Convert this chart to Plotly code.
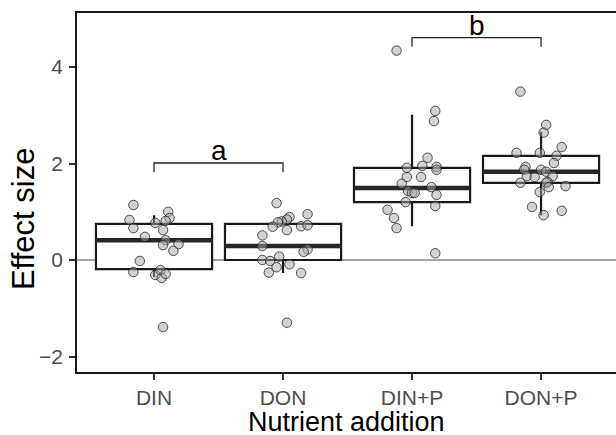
import plotly.graph_objects as go

# ---------------- data ----------------
categories = ["DIN", "DON", "DIN+P", "DON+P"]

# box statistics
q1 = [-0.19, 0.00, 1.20, 1.60]
median = [0.41, 0.29, 1.49, 1.83]
q3 = [0.75, 0.75, 1.91, 2.16]
lower_whisker = [-0.35, -0.27, 0.70, 0.93]
upper_whisker = [0.93, 0.89, 3.01, 2.66]

# jittered observations: values and horizontal jitter (category units)
din_y = [1.14, 0.83, 0.66, 0.48, 0.77, 1.00, 0.87, 0.81, 0.62, 0.41,
         0.31, 0.33, 0.19, -0.02, -0.25, -0.31, -0.21, -0.37, -0.29, -1.39]
din_dx = [-0.16, -0.19, -0.16, -0.07, 0.01, 0.11, 0.12, 0.09, 0.07, 0.09,
          0.07, 0.19, 0.15, -0.11, -0.16, 0.01, 0.05, 0.06, 0.09, 0.07]

don_y = [1.18, 0.95, 0.89, 0.84, 0.80, 0.78, 0.69, 0.62, 0.70, 0.72, 0.51,
         0.29, 0.22, 0.17, 0.07, 0.00, -0.02, -0.15, -0.26, -0.09, -0.27, -1.30]
don_dx = [-0.05, 0.19, 0.05, 0.03, -0.01, -0.04, -0.08, 0.03, 0.14, 0.19, -0.16,
          -0.16, 0.19, 0.16, -0.03, -0.16, -0.10, -0.05, -0.11, 0.05, 0.14, 0.03]

dinp_y = [4.34, 3.09, 2.88, 2.12, 1.95, 1.93, 1.87, 1.91, 1.72, 1.72, 1.58,
          1.51, 1.43, 1.39, 1.39, 1.35, 1.20, 1.12, 1.04, 0.87, 0.66, 0.14]
dinp_dx = [-0.12, 0.18, 0.17, 0.12, 0.08, 0.19, 0.19, -0.04, -0.04, 0.07, -0.08,
           0.15, -0.03, 0.00, 0.02, 0.19, -0.05, 0.18, -0.19, -0.14, -0.12, 0.18]

donp_y = [3.49, 2.80, 2.64, 2.34, 2.22, 2.22, 2.16, 2.01, 1.93, 1.87, 1.87, 1.83,
          1.74, 1.72, 1.74, 1.62, 1.60, 1.60, 1.51, 1.53, 1.41, 1.10, 1.02, 0.93]
donp_dx = [-0.16, 0.04, 0.02, 0.16, -0.19, -0.01, 0.12, 0.10, -0.12, -0.13, 0.00, 0.04,
           -0.11, -0.05, 0.09, 0.05, -0.16, 0.04, 0.06, 0.19, -0.01, -0.07, 0.16, 0.02]

# significance brackets
bracket_from = [0, 2]
bracket_to = [1, 3]
bracket_y = [2.01, 4.61]
bracket_labels = ["a", "b"]

y_ticks = [-2, 0, 2, 4]

# ---------------- styling constants ----------------
BOX_W = 0.9
TIP = 0.19
FONT = "Liberation Sans, Arial, Helvetica, sans-serif"

fig = go.Figure()

xpos = list(range(len(categories)))

fig.add_trace(go.Box(
    x=xpos, q1=q1, median=median, q3=q3,
    lowerfence=lower_whisker, upperfence=upper_whisker,
    width=BOX_W, whiskerwidth=0, boxpoints=False,
    fillcolor="white", line=dict(color="#1a1a1a", width=2.2),
    hoverinfo="skip", showlegend=False,
))

# thick median bars
mx, my = [], []
for i, m in enumerate(median):
    mx += [i - BOX_W / 2, i + BOX_W / 2, None]
    my += [m, m, None]
fig.add_trace(go.Scatter(x=mx, y=my, mode="lines",
                         line=dict(color="#262626", width=4.5),
                         showlegend=False, hoverinfo="skip"))

# jittered points
groups = [(din_y, din_dx), (don_y, don_dx), (dinp_y, dinp_dx), (donp_y, donp_dx)]
for i, (ys, dxs) in enumerate(groups):
    fig.add_trace(go.Scatter(
        x=[i + d for d in dxs], y=ys, mode="markers",
        marker=dict(size=9.5, color="rgba(165,165,165,0.5)",
                    line=dict(color="rgba(30,30,30,0.75)", width=1)),
        showlegend=False, hoverinfo="skip"))

# brackets
for a, b, h, lab in zip(bracket_from, bracket_to, bracket_y, bracket_labels):
    fig.add_trace(go.Scatter(
        x=[a, a, b, b], y=[h - TIP, h, h, h - TIP], mode="lines",
        line=dict(color="#262626", width=1.3),
        showlegend=False, hoverinfo="skip"))
    fig.add_annotation(x=(a + b) / 2, y=h, text=lab, showarrow=False,
                       xref="x", yref="y", yanchor="bottom", yshift=-5,
                       font=dict(family=FONT, size=28, color="black"))

fig.update_layout(
    width=616, height=435,
    margin=dict(l=77, r=0, t=13, b=63),
    plot_bgcolor="white", paper_bgcolor="white",
    font=dict(family=FONT),
    xaxis=dict(
        range=[-0.597, 3.581], tickvals=xpos, ticktext=categories,
        showgrid=False, zeroline=False,
        showline=True, linecolor="#1a1a1a", linewidth=1.6, mirror=True,
        ticks="outside", ticklen=6, tickwidth=1.5, tickcolor="#333333",
        tickfont=dict(family=FONT, size=21, color="#4d4d4d"),
    ),
    yaxis=dict(
        range=[-2.321, 5.119], tickvals=y_ticks,
        showgrid=False,
        zeroline=True, zerolinecolor="#a6a6a6", zerolinewidth=1.5,
        showline=True, linecolor="#1a1a1a", linewidth=1.6,
        ticks="outside", ticklen=6, tickwidth=1.5, tickcolor="#333333",
        ticklabelstandoff=2,
        tickfont=dict(family=FONT, size=21, color="#4d4d4d"),
    ),
)

# axis titles
fig.add_annotation(text="Nutrient addition", xref="paper", yref="paper",
                   x=0.5, y=-0.138, xanchor="center", yanchor="middle", showarrow=False,
                   font=dict(family=FONT, size=27, color="black"))
fig.add_annotation(text="Effect size", xref="paper", yref="paper",
                   x=-0.1002, y=0.426, xanchor="center", yanchor="middle", textangle=-90,
                   showarrow=False, font=dict(family=FONT, size=31, color="black"))

fig.write_html("out.html")
